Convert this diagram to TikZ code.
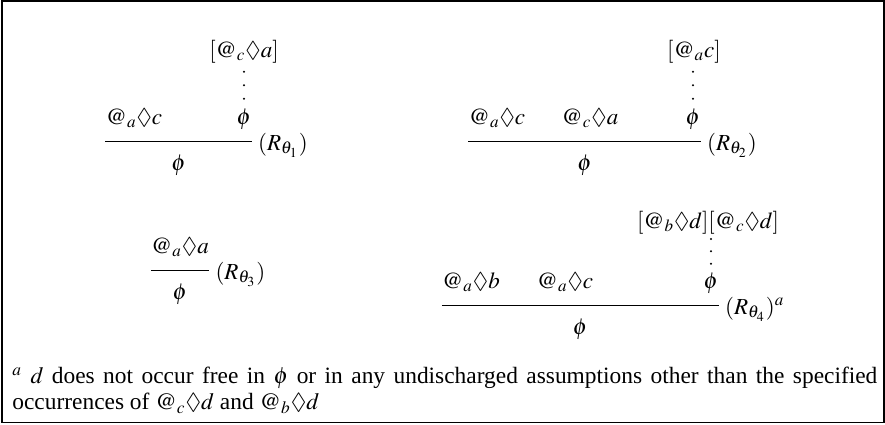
\documentclass[tikz,border=0pt,11pt]{standalone}
\usepackage{mathptmx}
\usepackage{amssymb}
\usepackage{fontspec}
\setmainfont{Liberation Serif}
\usetikzlibrary{calc,positioning}

\tikzset{
  fml/.style={anchor=base, inner sep=0pt},
  rname/.style={anchor=base west, inner sep=0pt},
  infline/.style={line width=0.5pt},
}

\begin{document}
\begin{tikzpicture}[x=0.5pt, y=-0.5pt, font=\fontsize{11.5}{12.5}\selectfont]
  \useasboundingbox (0,0) rectangle (885,424);
  \draw[line width=0.6pt] (2,1) rectangle (884,422.5);

  % rule theta_1
  \node[fml] (h1) at (244,57)  {$[@_c\Diamond a]$};
  \node[fml] (a1) at (134,124) {$@_a\Diamond c$};
  \node[fml] (p1) at (244,124) {$\phi$};
  \coordinate (l1) at (0,141);
  \draw[infline] (a1.west |- l1) coordinate (s1) -- (p1.east |- l1) coordinate (e1);
  \foreach \f in {0.19,0.49,0.79}
    \fill ($(p1.north |- h1.south)!\f!(p1.north)$) circle (1.1);
  \node[rname] (r1) at ([xshift=3pt,yshift=-4.5pt]e1) {$(R_{\theta_1})$};
  \node[fml] (c1) at ($(s1)!0.5!(e1)+(0,29)$) {$\phi$};

  % rule theta_2
  \node[fml] (h2) at (694,57)  {$[@_a c]$};
  \node[fml] (a2) at (497,124) {$@_a\Diamond c$};
  \node[fml] (b2) at (590,124) {$@_c\Diamond a$};
  \node[fml] (p2) at (693,124) {$\phi$};
  \coordinate (l2) at (0,141);
  \draw[infline] (a2.west |- l2) coordinate (s2) -- (p2.east |- l2) coordinate (e2);
  \foreach \f in {0.19,0.49,0.79}
    \fill ($(p2.north |- h2.south)!\f!(p2.north)$) circle (1.1);
  \node[rname] (r2) at ([xshift=3pt,yshift=-4.5pt]e2) {$(R_{\theta_2})$};
  \node[fml] (c2) at ($(s2)!0.5!(e2)+(0,29)$) {$\phi$};

  % rule theta_3
  \node[fml] (a3) at (180,253) {$@_a\Diamond a$};
  \coordinate (l3) at (0,270);
  \draw[infline] (a3.west |- l3) coordinate (s3) -- (a3.east |- l3) coordinate (e3);
  \node[rname] (r3) at ([xshift=3pt,yshift=-4.5pt]e3) {$(R_{\theta_3})$};
  \node[fml] (c3) at ($(s3)!0.5!(e3)+(0,29)$) {$\phi$};

  % rule theta_4
  \node[fml] (h4) at (708,228) {$[@_b\Diamond d][@_c\Diamond d]$};
  \node[fml] (a4) at (471,288) {$@_a\Diamond b$};
  \node[fml] (b4) at (565,288) {$@_a\Diamond c$};
  \node[fml] (p4) at (711,288) {$\phi$};
  \coordinate (l4) at (0,305);
  \draw[infline] (a4.west |- l4) coordinate (s4) -- (p4.east |- l4) coordinate (e4);
  \foreach \f in {0.13,0.45,0.78}
    \fill ($(p4.north |- h4.south)!\f!(p4.north)$) circle (1.1);
  \node[rname] (r4) at ([xshift=3pt,yshift=-4.5pt]e4) {$(R_{\theta_4})^a$};
  \node[fml] (c4) at ($(s4)!0.5!(e4)+(0,29)$) {$\phi$};

  % footnote
  \node[anchor=north west, inner sep=0pt, text width=432.5pt, align=justify,
        font=\fontsize{11.7}{13}\selectfont] (fn) at (12,367)
    {\hyphenpenalty=10000 $^a$\ $d$ does not occur free in $\phi$ or in any undischarged assumptions other than the specified occurrences of $@_c\Diamond d$ and $@_b\Diamond d$};
\end{tikzpicture}
\end{document}
